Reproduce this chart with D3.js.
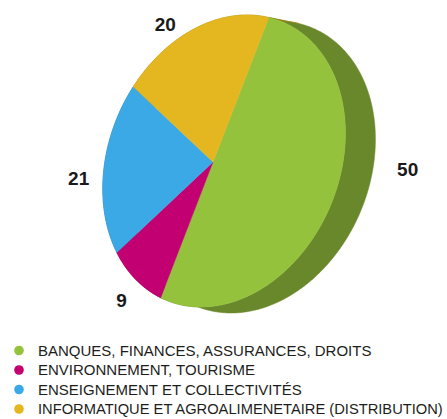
<html lang="fr">
<head>
<meta charset="UTF-8">
<title>Répartition par secteur</title>
<script src="https://d3js.org/d3.v7.min.js"></script>
<style>
  body { margin: 0; background: #fff; }
  .label { font-family: "Liberation Sans", Arial, sans-serif; font-weight: bold; font-size: 19px; fill: #1a1a1a; }
  .legend text { font-family: "Liberation Sans", Arial, sans-serif; font-size: 15px; fill: #1d1d1b; }
</style>
</head>
<body>
<svg id="chart" width="447" height="419"></svg>
<script>
const categories = [
  "BANQUES, FINANCES, ASSURANCES, DROITS",
  "ENVIRONNEMENT, TOURISME",
  "ENSEIGNEMENT ET COLLECTIVITÉS",
  "INFORMATIQUE ET AGROALIMENETAIRE (DISTRIBUTION)"
];
const values = [50, 9, 21, 20];
const colors = ["#95c23d", "#c20071", "#3ba9e6", "#e4b620"];

// layout of the tilted disc (perspective seen from the left)
const cx = 213, cy = 162;
const ax = 119.5, bx = -14, cyx = -10.86, dy = 145, persp = 0.092;
const depth = [30, 6];
const rotation = 20 * Math.PI / 180;
// label placement tweaks per slice: angle shift (deg) and radius factor
const labelNudge = [[-14, 1.44], [0, 1.19], [-1.7, 1.25], [-11.5, 1.17]];

function project (t, r) {
  const u = r * Math.sin(t), v = -r * Math.cos(t);
  const w = 1 - persp * u;
  return [cx + (ax * u + bx * v) / w, cy + (cyx * u + dy * v) / w];
}

function arcPoints (a0, a1, r, off) {
  const n = Math.max(2, Math.ceil(Math.abs(a1 - a0) / 0.01));
  return d3.range(n + 1).map(i => {
    const p = project(a0 + (a1 - a0) * i / n, r);
    return [p[0] + off[0], p[1] + off[1]];
  });
}

const svg = d3.select("#chart");
const line = d3.line();

const pie = d3.pie().sort(null).value(d => d)
  .startAngle(rotation).endAngle(rotation + 2 * Math.PI);
const arcs = pie(values);

// side of the disc
svg.append("g").selectAll("path")
  .data(arcs)
  .join("path")
  .attr("d", d => line(arcPoints(d.startAngle, d.endAngle, 1, [0, 0])
    .concat(arcPoints(d.endAngle, d.startAngle, 1, depth))) + "Z")
  .attr("fill", (d, i) => d3.color(colors[i]).darker(1))
  .attr("stroke", (d, i) => d3.color(colors[i]).darker(1))
  .attr("stroke-width", 0.5);

// front face
svg.append("g").selectAll("path")
  .data(arcs)
  .join("path")
  .attr("d", d => line([[cx, cy]].concat(arcPoints(d.startAngle, d.endAngle, 1, [0, 0]))) + "Z")
  .attr("fill", (d, i) => colors[i])
  .attr("stroke", (d, i) => colors[i])
  .attr("stroke-width", 0.5)
  .attr("stroke-linejoin", "round");

// value labels
svg.append("g").selectAll("text")
  .data(arcs)
  .join("text")
  .attr("class", "label")
  .attr("text-anchor", "middle")
  .attr("dy", "0.36em")
  .attr("transform", (d, i) => {
    const mid = (d.startAngle + d.endAngle) / 2 + labelNudge[i][0] * Math.PI / 180;
    const p = project(mid, labelNudge[i][1]);
    return `translate(${p[0]},${p[1]})`;
  })
  .text(d => d.data);

// legend
const legendY = d3.scalePoint().domain(categories).range([350.5, 409]);
const legend = svg.append("g").attr("class", "legend")
  .selectAll("g")
  .data(categories)
  .join("g")
  .attr("transform", d => `translate(19,${legendY(d)})`);

legend.append("circle")
  .attr("r", 4.8)
  .attr("fill", (d, i) => colors[i]);

const maxText = 447 - 19 - 19 - 4;
legend.append("text")
  .attr("x", 19)
  .attr("dy", "0.36em")
  .text(d => d)
  .each(function () {
    // shrink a line that would run past the right edge
    const len = this.getComputedTextLength();
    if (len > maxText) {
      d3.select(this).style("font-size", (15 * maxText / len).toFixed(2) + "px");
    }
  });
</script>
</body>
</html>
